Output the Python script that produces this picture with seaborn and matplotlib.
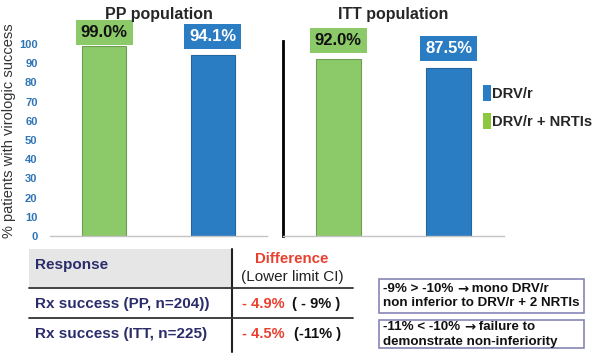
import numpy as np
import pandas as pd
import matplotlib
matplotlib.use("Agg")
import matplotlib.pyplot as plt
import seaborn as sns
from matplotlib.patches import Rectangle, Patch

# ── Data ─────────────────────────────────────────────────────────────────────
arms = ["DRV/r + NRTIs", "DRV/r"]
pp_values = [99.0, 94.1]
itt_values = [92.0, 87.5]
panel_titles = ["PP population", "ITT population"]
y_ticks = list(range(0, 101, 10))

row_labels = ["Rx success (PP, n=204))", "Rx success (ITT, n=225)"]
diffs = ["- 4.9%", "- 4.5%"]
lower_ci = ["( - 9% )", "(-11% )"]
# each note line: (before arrow, after arrow) or plain string
notes = [[("-9% > -10% ", " mono DRV/r"), "non inferior to DRV/r + 2 NRTIs"],
         [("-11% < -10% ", " failure to"), "demonstrate non-inferiority"]]

GREEN, BLUE = "#8CC968", "#2B7DC3"
GREEN_EDGE, BLUE_EDGE = "#6E9E55", "#22669E"
LEG_GREEN = "#8DC63F"
NAVY, RED = "#2B2D6B", "#E8402F"

sns.set_style("white")
plt.rcParams["font.family"] = ["Liberation Sans", "DejaVu Sans"]

W, H = 600, 357
fig = plt.figure(figsize=(6, 3.57), dpi=100)


def px_axes(x0, y0, x1, y1):
    # pixel box (top-left origin) -> figure axes
    return fig.add_axes([x0 / W, 1 - y1 / H, (x1 - x0) / W, (y1 - y0) / H])


ax1 = px_axes(50, 41, 267, 236)
ax2 = px_axes(283, 41, 504, 236)

for ax, vals in [(ax1, pp_values), (ax2, itt_values)]:
    df = pd.DataFrame({"arm": arms, "value": vals})
    sns.barplot(data=df, x="arm", y="value", hue="arm", order=arms, hue_order=arms,
                palette=[GREEN, BLUE], width=0.41, saturation=1, legend=False, ax=ax)
    for bar, ec in zip(ax.patches, [GREEN_EDGE, BLUE_EDGE]):
        bar.set_edgecolor(ec)
        bar.set_linewidth(0.8)
    ax.set_ylim(0, 101.6)
    ax.set_xlim(-0.5, 1.5)
    ax.set_xticks([-0.5, 0.5, 1.5])
    ax.set_xticklabels([])
    ax.set_xlabel("")
    ax.set_ylabel("")
    ax.tick_params(axis="x", length=4, color="#bbbbbb", width=0.8, direction="out")
    for s in ["top", "right"]:
        ax.spines[s].set_visible(False)
    ax.spines["bottom"].set_color("#c4c4c4")
    ax.spines["bottom"].set_linewidth(1.0)
    # value boxes
    for i, (v, fc, tc) in enumerate(zip(vals, [GREEN, BLUE], ["#111111", "white"])):
        off = 7.0 if (ax is ax1 and i == 0) else 10.0
        ax.text(i, v + off, f"{v:.1f}%", ha="center", va="center", fontsize=12,
                fontweight="bold", color=tc, clip_on=False,
                bbox=dict(boxstyle="square,pad=0.3", fc=fc, ec="none"))

ax1.set_title(panel_titles[0], fontsize=11.5, fontweight="bold", pad=0, y=1.115)
ax2.set_title(panel_titles[1], fontsize=11.5, fontweight="bold", pad=0, y=1.115)

ax1.set_yticks(y_ticks)
ax1.set_yticklabels([str(t) for t in y_ticks], color="#2E75B6", fontweight="bold", fontsize=8)
ax1.tick_params(axis="y", length=2, color="#bbbbbb", pad=7)
ax1.spines["left"].set_visible(False)
ax1.set_ylabel("% patients with virologic success", fontsize=10.5, color="#333333")
ax1.yaxis.set_label_coords(-0.155, 0.54)

ax2.set_yticks([])
ax2.spines["left"].set_color("black")
ax2.spines["left"].set_linewidth(2)

fig.legend(handles=[Patch(fc=BLUE, ec="none", label="DRV/r"),
                    Patch(fc=LEG_GREEN, ec="none", label="DRV/r + NRTIs")],
           loc="upper left", bbox_to_anchor=(470 / W, 1 - 72 / H), frameon=False,
           handlelength=0.5, handleheight=1.3, handletextpad=0.12,
           labelspacing=0.8, prop=dict(weight="bold", size=10.6))

# ── Table overlay (pixel coordinates) ────────────────────────────────────────
ov = fig.add_axes([0, 0, 1, 1])
ov.set_xlim(0, W)
ov.set_ylim(H, 0)
ov.axis("off")

ov.add_patch(Rectangle((29, 249), 203, 38, fc="#E6E6E6", ec="none"))
ov.plot([232, 232], [249, 352], color="#222222", lw=1.5)
ov.plot([29, 353], [288, 288], color="#333333", lw=1.3)
ov.plot([29, 353], [318, 318], color="#333333", lw=1.3)

ov.text(35, 265, "Response", fontsize=11, fontweight="bold", color=NAVY, va="center")
ov.text(292, 259, "Difference", fontsize=10.8, fontweight="bold", color=RED, ha="center", va="center")
ov.text(292, 277, "(Lower limit CI)", fontsize=11, color="#222222", ha="center", va="center")

row_y = [304, 334]
ci_x = [292, 294]
for y, lab, d, ci, cx in zip(row_y, row_labels, diffs, lower_ci, ci_x):
    ov.text(35, y, lab, fontsize=11, fontweight="bold", color=NAVY, va="center")
    ov.text(242, y, d, fontsize=10.5, fontweight="bold", color=RED, va="center")
    ov.text(cx, y, ci, fontsize=10.5, fontweight="bold", color="#111111", va="center")

box_y = [(279, 313), (320, 348)]
NOTE_FS = 9.6
for (y0, y1), lines in zip(box_y, notes):
    ov.add_patch(Rectangle((379, y0), 205, y1 - y0, fc="white", ec="#8585B5", lw=1.2))
    yc = (y0 + y1) / 2
    for ly, line in zip([yc - 7.5, yc + 7.5], lines):
        if isinstance(line, tuple):
            t1 = ov.text(383, ly, line[0], fontsize=NOTE_FS, fontweight="bold",
                         color="#111111", va="center")
            t2 = ov.annotate("\u2192", xy=(1, 0.5), xycoords=t1, va="center", ha="left",
                             fontsize=NOTE_FS, fontweight="bold", color="#111111",
                             family="DejaVu Sans")
            ov.annotate(line[1], xy=(1, 0.5), xycoords=t2, va="center", ha="left",
                        fontsize=NOTE_FS, fontweight="bold", color="#111111")
        else:
            ov.text(383, ly, line, fontsize=NOTE_FS, fontweight="bold",
                    color="#111111", va="center")

fig.savefig("out.png", dpi=100)
